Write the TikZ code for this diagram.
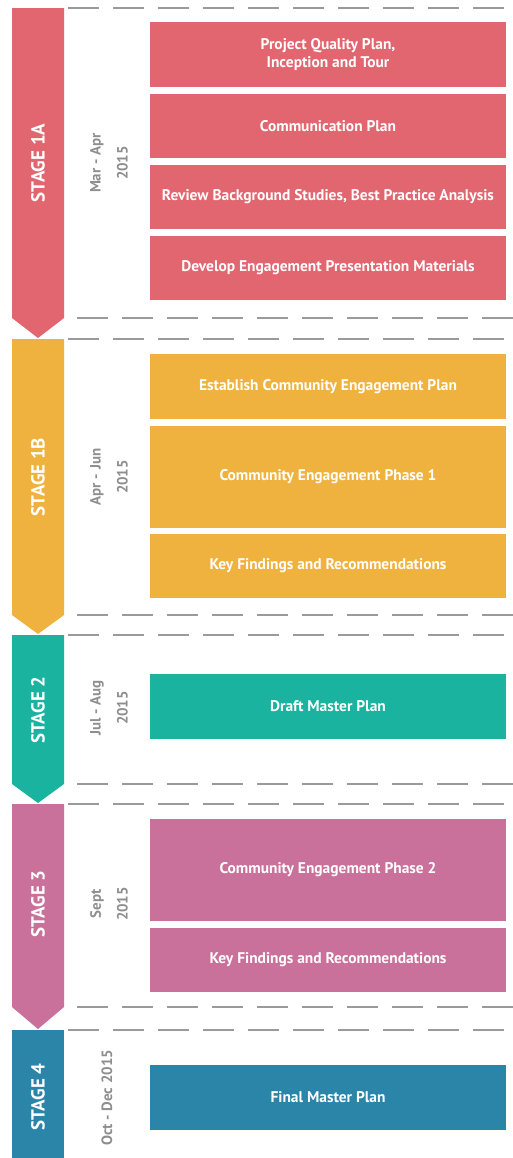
\documentclass[tikz,border=0pt]{standalone}
\usepackage{fontspec}
\setmainfont{PT Sans}
\definecolor{redA}{HTML}{E2666F}
\definecolor{orangeB}{HTML}{F0B23E}
\definecolor{tealC}{HTML}{1AB3A0}
\definecolor{mauveD}{HTML}{C9719A}
\definecolor{blueE}{HTML}{2A85A8}
\definecolor{dategray}{HTML}{8E8E8E}
\definecolor{sepgray}{HTML}{9A9A9A}

\begin{document}
\begin{tikzpicture}
        [x=1bp, y=-1bp,
        task/.style={minimum width=356bp, inner sep=0pt, text=white, align=center,
            font=\fontsize{15.5}{18}\selectfont\bfseries},
        stage/.style={rotate=90, text=white, inner sep=0pt, font=\fontsize{19}{20}\selectfont\bfseries},
        date/.style={rotate=90, text=dategray, align=center, inner sep=0pt,
            font=\fontsize{15}{27}\selectfont\bfseries},
        sep/.style={sepgray, line width=1.3bp, dash pattern=on 31bp off 14bp}]

        \useasboundingbox (0,0) rectangle (513,1158);

        % separators
        \draw[sep] (68,8) -- (513,8);
        \draw[sep] (77,318) -- (513,318);
        \draw[sep] (68,339) -- (513,339);
        \draw[sep] (77,615) -- (513,615);
        \draw[sep] (68,635) -- (513,635);
        \draw[sep] (77,784) -- (513,784);
        \draw[sep] (68,804) -- (513,804);
        \draw[sep] (77,1007) -- (513,1007);
        \draw[sep] (68,1030) -- (513,1030);

        % Stage 1A
        \fill[redA] (12,8) -- (64,8) -- (64,318) -- (38,338) -- (12,318) -- cycle;
        \node[stage] (s1a) at (38,163) {STAGE 1A};
        \node[date] (d1a) at (109,163) {Mar - Apr\\2015};
        \node[task, fill=redA, minimum height=65bp] (t1) at (328,54.5) {Project Quality Plan,\\Inception and Tour};
        \node[task, fill=redA, minimum height=64bp] (t2) at (328,126) {Communication Plan};
        \node[task, fill=redA, minimum height=64bp] (t3) at (328,197) {Review Background Studies, Best Practice Analysis};
        \node[task, fill=redA, minimum height=64bp] (t4) at (328,268) {Develop Engagement Presentation Materials};

        % Stage 1B
        \fill[orangeB] (12,339) -- (64,339) -- (64,615) -- (38,634) -- (12,615) -- cycle;
        \node[stage] (s1b) at (38,477) {STAGE 1B};
        \node[date] (d1b) at (109,477) {Apr - Jun\\2015};
        \node[task, fill=orangeB, minimum height=65bp] (t5) at (328,386.5) {Establish Community Engagement Plan};
        \node[task, fill=orangeB, minimum height=102bp] (t6) at (328,477) {Community Engagement Phase 1};
        \node[task, fill=orangeB, minimum height=64bp] (t7) at (328,566) {Key Findings and Recommendations};

        % Stage 2
        \fill[tealC] (12,635) -- (64,635) -- (64,784) -- (38,803) -- (12,784) -- cycle;
        \node[stage] (s2) at (38,710) {STAGE 2};
        \node[date] (d2) at (109,708) {Jul - Aug\\2015};
        \node[task, fill=tealC, minimum height=65bp] (t8) at (328,706.5) {Draft Master Plan};

        % Stage 3
        \fill[mauveD] (12,804) -- (64,804) -- (64,1007) -- (38,1029) -- (12,1007) -- cycle;
        \node[stage] (s3) at (38,904) {STAGE 3};
        \node[date] (d3) at (109,904) {Sept\\2015};
        \node[task, fill=mauveD, minimum height=102bp] (t9) at (328,870) {Community Engagement Phase 2};
        \node[task, fill=mauveD, minimum height=64bp] (t10) at (328,960) {Key Findings and Recommendations};

        % Stage 4
        \fill[blueE] (12,1030) rectangle (64,1158);
        \node[stage] (s4) at (38,1097) {STAGE 4};
        \node[date] (d4) at (107,1098) {Oct - Dec 2015};
        \node[task, fill=blueE, minimum height=65bp] (t11) at (328,1097.5) {Final Master Plan};
    \end{tikzpicture}
\end{document}
